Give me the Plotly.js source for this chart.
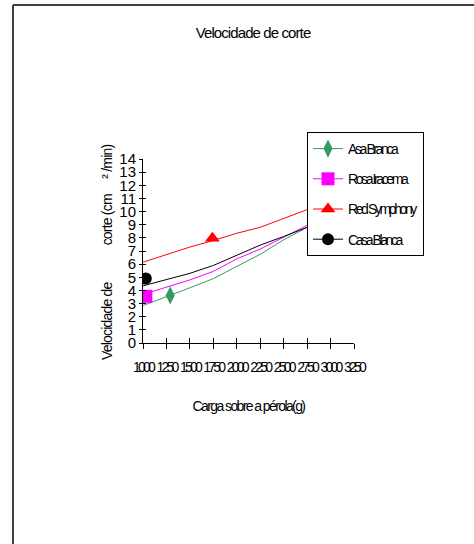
<!DOCTYPE html>
<html>
<head>
<meta charset="utf-8">
<script src="https://cdn.plot.ly/plotly-3.0.1.min.js"></script>
<style>
  html, body { margin: 0; padding: 0; background: #fff; }
  #chart { width: 474px; height: 544px; }
  .gtitle { letter-spacing: -0.9px; }
  .legendtext { letter-spacing: -2.4px; }
  .xtick text { letter-spacing: -2.8px; }
  .xtitle { letter-spacing: -1.6px; }
  .annotation-text { letter-spacing: -0.8px; }
</style>
</head>
<body>
<div id="chart"></div>
<script>
// ---- data ----
const xVals = [1000, 1250, 1500, 1750, 2000, 2250, 2500, 2750];
const asaBranca   = [2.85, 3.5, 4.2, 4.9, 5.85, 6.75, 7.85, 8.8];
const rosaIracema = [3.7, 4.25, 4.8, 5.45, 6.4, 7.15, 8.05, 8.95];
const redSymphony = [6.15, 6.75, 7.3, 7.8, 8.35, 8.8, 9.5, 10.15];
const casaBlanca  = [4.35, 4.85, 5.3, 5.9, 6.7, 7.45, 8.1, 8.8];

const seriesNames = ["Asa Branca", "Rosa Iracema", "Red Symphony", "Casa Blanca"];
const markerX = [1290, 1030, 1740, 1030];
const markerY = [3.62, 3.55, 7.97, 4.9];

const xTickVals = [1000, 1250, 1500, 1750, 2000, 2250, 2500, 2750, 3000, 3250];
const xTickText = ["1000", "1250", "1500", "1750", "2000", "2250", "2500", "2750", "3000", "3250"];
const yTickVals = [0, 1, 2, 3, 4, 5, 6, 7, 8, 9, 10, 11, 12, 13, 14];
const yTickText = ["0", "1", "2", "3", "4", "5", "6", "7", "8", "9", "10", "11", "12", "13", "14"];

const titleText = "Velocidade de corte";
const xTitleText = "Carga sobre a pérola(g)";
const yTitleText = "Velocidade de\u00a0\u00a0\u00a0\u00a0\u00a0\u00a0\u00a0\u00a0\u00a0\u00a0\u00a0\u00a0corte (cm\u00a0\u00a0\u00a0\u00a0\u00a0²\u00a0/min)";

// ---- styles ----
const values = [asaBranca, rosaIracema, redSymphony, casaBlanca];
const lineColors = ["#339966", "#FF00FF", "#FF0000", "#000000"];
const markerColors = ["#339966", "#FF00FF", "#FF0000", "#000000"];
const symbols = ["diamond-tall", "square", "triangle-up", "circle"];
const sizes = [13, 13, 13, 12];

const FONT = "Liberation Sans, Arial, sans-serif";
const traces = [];
for (let i = 0; i < 4; i++) {
  traces.push({
    x: xVals, y: values[i], type: "scatter", mode: "lines",
    line: { color: lineColors[i], width: 1 },
    showlegend: false, hoverinfo: "skip", legendgroup: "g" + i
  });
}
for (let i = 0; i < 4; i++) {
  traces.push({
    x: [markerX[i]], y: [markerY[i]], type: "scatter", mode: "lines+markers",
    name: seriesNames[i], legendgroup: "g" + i,
    line: { color: lineColors[i], width: 1 },
    marker: { symbol: symbols[i], size: sizes[i], color: markerColors[i], line: { width: 0 } }
  });
}

const L = 143, R = 120, T = 159, B = 201;
const W = 474, H = 544;
const pw = W - L - R, ph = H - T - B;
const px = v => (v - L) / pw;
const py = v => (H - B - v) / ph;

const layout = {
  width: W, height: H,
  margin: { l: L, r: R, t: T, b: B, pad: 0 },
  paper_bgcolor: "#fff", plot_bgcolor: "#fff",
  font: { family: FONT, color: "#000", size: 14 },
  title: {
    text: titleText, font: { family: FONT, size: 15, color: "#000" },
    xref: "container", yref: "container", x: 253 / W, y: 1 - 33 / H,
    xanchor: "center", yanchor: "middle"
  },
  xaxis: {
    range: [1000, 3250], tickmode: "array", tickvals: xTickVals, ticktext: xTickText,
    tickangle: 0, ticks: "outside", ticklen: 5, tickcolor: "#000", tickwidth: 1,
    showline: true, linecolor: "#000", linewidth: 1, showgrid: false, zeroline: false,
    tickfont: { family: FONT, size: 14, color: "#000" }, ticklabelstandoff: 6,
    title: { text: xTitleText, font: { family: FONT, size: 14, color: "#000" }, standoff: 27 },
    automargin: false, fixedrange: true
  },
  yaxis: {
    range: [0, 14], tickmode: "array", tickvals: yTickVals, ticktext: yTickText,
    ticks: "outside", ticklen: 3, tickcolor: "#000", tickwidth: 1,
    showline: true, linecolor: "#000", linewidth: 1, showgrid: false, zeroline: false,
    tickfont: { family: FONT, size: 15, color: "#000" }, ticklabelstandoff: 0,
    automargin: false, fixedrange: true
  },
  xaxis2: {
    overlaying: "x", matches: "x", range: [1000, 3250], tickmode: "array", tickvals: xTickVals,
    showticklabels: false, ticks: "inside", ticklen: 5, tickcolor: "#000", tickwidth: 1,
    showline: false, showgrid: false, zeroline: false, fixedrange: true
  },
  yaxis2: {
    overlaying: "y", matches: "y", range: [0, 14], tickmode: "array", tickvals: yTickVals,
    showticklabels: false, ticks: "inside", ticklen: 3, tickcolor: "#000", tickwidth: 1,
    showline: false, showgrid: false, zeroline: false, fixedrange: true
  },
  legend: {
    x: px(307), y: py(132), xanchor: "left", yanchor: "top",
    bgcolor: "#fff", bordercolor: "#000", borderwidth: 1,
    font: { family: FONT, size: 14, color: "#000" },
    traceorder: "grouped", tracegroupgap: 9, itemwidth: 30
  },
  annotations: [{
    text: yTitleText, xref: "paper", yref: "paper", x: px(107), y: py(253),
    xanchor: "center", yanchor: "middle", textangle: -90, showarrow: false,
    font: { family: FONT, size: 14, color: "#000" }
  }],
  shapes: [
    { type: "line", xref: "paper", yref: "paper", x0: px(13), x1: px(13), y0: py(5), y1: py(560),
      line: { color: "#404040", width: 2 } },
    { type: "line", xref: "paper", yref: "paper", x0: px(13), x1: px(490), y0: py(5), y1: py(5),
      line: { color: "#404040", width: 2 } }
  ],
  showlegend: true
};

// invisible point so the overlay axes (crossing tick marks) are drawn
traces.push({ x: [1000], y: [0], xaxis: "x2", yaxis: "y2", type: "scatter", mode: "markers",
  marker: { opacity: 0 }, showlegend: false, hoverinfo: "skip" });

Plotly.newPlot("chart", traces, layout, { displayModeBar: false, staticPlot: true });
</script>
</body>
</html>
